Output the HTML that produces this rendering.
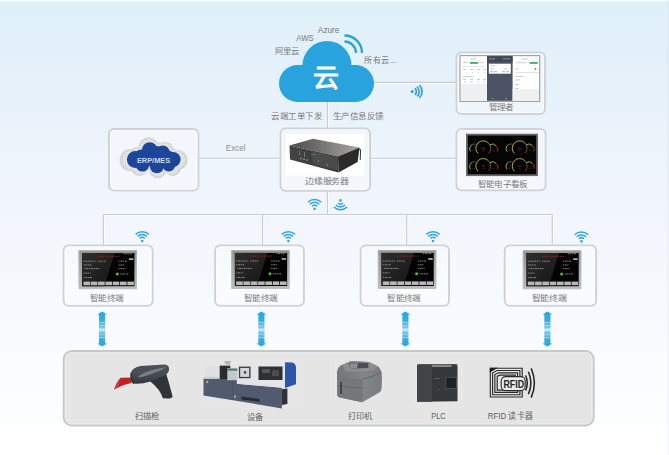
<!DOCTYPE html>
<html lang="zh-CN">
<head>
<meta charset="utf-8">
<style>
html,body{margin:0;padding:0;}
body{width:669px;height:455px;overflow:hidden;position:relative;font-family:"Liberation Sans",sans-serif;
background:linear-gradient(to bottom,#ffffff 0px,#dff0f9 2px,#e6f1fa 80px,#eef4fb 160px,#f4f8fd 260px,#fafcfe 360px,#fefefe 455px);}
svg{position:absolute;left:0;top:0;}
text{font-family:"Liberation Sans",sans-serif;}
</style>
</head>
<body>
<svg width="669" height="455" viewBox="0 0 669 455">
<defs>
  <linearGradient id="arrowg" x1="0" y1="0" x2="0" y2="1">
    <stop offset="0" stop-color="#2aa6dc"/>
    <stop offset="0.28" stop-color="#3aaedd"/>
    <stop offset="0.32" stop-color="#8fd0ea"/>
    <stop offset="0.36" stop-color="#3aaedd"/>
    <stop offset="0.40" stop-color="#9ad6ec"/>
    <stop offset="0.44" stop-color="#5cbce2"/>
    <stop offset="0.52" stop-color="#d6eff7"/>
    <stop offset="0.62" stop-color="#5cbce2"/>
    <stop offset="0.66" stop-color="#9ad6ec"/>
    <stop offset="0.70" stop-color="#3aaedd"/>
    <stop offset="0.74" stop-color="#8fd0ea"/>
    <stop offset="0.78" stop-color="#3aaedd"/>
    <stop offset="1" stop-color="#2aa6dc"/>
  </linearGradient>
  <g id="arrow">
    <path d="M0,-17.6 L5,-14.4 L3.1,-14.4 L3.1,14.4 L5,14.4 L0,17.6 L-5,14.4 L-3.1,14.4 L-3.1,-14.4 L-5,-14.4 Z" fill="url(#arrowg)"/>
  </g>
  <g id="wifi" fill="none" stroke="#34a4dc" stroke-width="1.55">
    <path d="M-6.6,-3.2 A9.4,9.4 0 0 1 6.6,-3.2"/>
    <path d="M-4.6,-1.2 A6.6,6.6 0 0 1 4.6,-1.2"/>
    <path d="M-2.5,0.8 A3.7,3.7 0 0 1 2.5,0.8"/>
    <circle cx="0" cy="3.4" r="1.3" fill="#34a4dc" stroke="none"/>
  </g>
</defs>

<!-- connector lines -->
<g stroke="#fbfcfe" stroke-width="1" fill="none">
  <line x1="373" y1="83.5" x2="457" y2="83.5"/>
  <line x1="328.6" y1="101" x2="328.6" y2="129"/>
  <line x1="198" y1="159.4" x2="281" y2="159.4"/>
  <line x1="370" y1="159.4" x2="457" y2="159.4"/>
  <line x1="328.6" y1="191" x2="328.6" y2="214.5"/>
  <line x1="103.4" y1="215.6" x2="552.3" y2="215.6"/>
  <line x1="104.5" y1="214.5" x2="104.5" y2="245"/>
  <line x1="263.70000000000005" y1="214.5" x2="263.70000000000005" y2="245"/>
  <line x1="407.8" y1="214.5" x2="407.8" y2="245"/>
  <line x1="553.4" y1="214.5" x2="553.4" y2="245"/>
</g>
<g stroke="#c8ccd1" stroke-width="1.1" fill="none">
  <line x1="373" y1="82.4" x2="457" y2="82.4"/>
  <line x1="327.5" y1="101" x2="327.5" y2="129"/>
  <line x1="198" y1="158.3" x2="281" y2="158.3"/>
  <line x1="370" y1="158.3" x2="457" y2="158.3"/>
  <line x1="327.5" y1="191" x2="327.5" y2="214.5"/>
  <line x1="103.4" y1="214.5" x2="552.3" y2="214.5"/>
  <line x1="103.4" y1="214.5" x2="103.4" y2="245"/>
  <line x1="262.6" y1="214.5" x2="262.6" y2="245"/>
  <line x1="406.7" y1="214.5" x2="406.7" y2="245"/>
  <line x1="552.3" y1="214.5" x2="552.3" y2="245"/>
</g>

<!-- cloud -->
<g fill="#28a3dd">
  <rect x="279" y="65" width="95" height="37" rx="18.5"/>
  <circle cx="327" cy="65.5" r="24.5"/>
</g>
<text x="326" y="87.4" font-size="26" font-weight="bold" fill="#fff" text-anchor="middle">云</text>
<g fill="none" stroke="#28a3dd" stroke-width="2.3">
  <path d="M344.5,41.5 A11.5,11.5 0 0 1 356,53"/>
  <path d="M344.5,35.5 A17.5,17.5 0 0 1 362,53"/>
</g>
<g fill="#7a7a7a" font-size="8.5">
  <text x="318" y="33.1" font-size="9.2" textLength="21.4" lengthAdjust="spacingAndGlyphs">Azure</text>
  <text x="296.2" y="41.3" font-size="8.6" textLength="17.6" lengthAdjust="spacingAndGlyphs">AWS</text>
  <text x="274.8" y="54" font-size="8.2" textLength="24.6" lengthAdjust="spacingAndGlyphs">阿里云</text>
  <text x="364.2" y="63" textLength="32" lengthAdjust="spacingAndGlyphs">所有云...</text>
  <text x="271.2" y="118.9" font-size="8" textLength="51" lengthAdjust="spacingAndGlyphs">云端工单下发</text>
  <text x="332.7" y="118.9" font-size="8" textLength="51.3" lengthAdjust="spacingAndGlyphs">生产信息反馈</text>
</g>
<text x="225.8" y="150.7" font-size="9" fill="#8e8e8e" textLength="19.8" lengthAdjust="spacingAndGlyphs">Excel</text>

<!-- sideways wifi near cloud -->
<g fill="none" stroke="#2f9fd9" stroke-width="1.7">
  <circle cx="412.2" cy="91.6" r="1.5" fill="#2f9fd9" stroke="none"/>
  <path d="M414.8,88.3 A4,4 0 0 1 414.8,94.7"/>
  <path d="M417,86.6 A6.6,6.6 0 0 1 417,96.4"/>
  <path d="M419.4,85 A9.3,9.3 0 0 1 419.4,98"/>
</g>

<!-- generic boxes -->
<g fill="#ffffff" fill-opacity="0.3" stroke="#cfd3d7" stroke-width="2">
  <rect x="109" y="129" width="89.4" height="61.6" rx="5"/>
  <rect x="280.6" y="128.4" width="89.4" height="62.4" rx="5"/>
  <rect x="456.5" y="52.5" width="88.5" height="61.5" rx="5"/>
  <rect x="456.5" y="129" width="89" height="61.3" rx="5"/>
  <rect x="63.6" y="245.4" width="89" height="60.3" rx="5"/>
  <rect x="215.1" y="245.4" width="88.8" height="60.3" rx="5"/>
  <rect x="360.7" y="245.4" width="88.3" height="60.3" rx="5"/>
  <rect x="504.8" y="245.4" width="91.3" height="60.3" rx="5"/>
</g>
<g fill="none" stroke="#fbfcfd" stroke-width="1">
  <rect x="110.6" y="130.6" width="86.2" height="58.4" rx="3.5"/>
  <rect x="282.20000000000005" y="130.0" width="86.2" height="59.199999999999996" rx="3.5"/>
  <rect x="458.1" y="54.1" width="85.3" height="58.3" rx="3.5"/>
  <rect x="458.1" y="130.6" width="85.8" height="58.099999999999994" rx="3.5"/>
  <rect x="65.2" y="247.0" width="85.8" height="57.099999999999994" rx="3.5"/>
  <rect x="216.7" y="247.0" width="85.6" height="57.099999999999994" rx="3.5"/>
  <rect x="362.3" y="247.0" width="85.1" height="57.099999999999994" rx="3.5"/>
  <rect x="506.40000000000003" y="247.0" width="88.1" height="57.099999999999994" rx="3.5"/>
</g>

<!-- bottom big box -->
<rect x="63.7" y="351" width="530" height="74.5" rx="8" fill="#e5e5e5" stroke="#c8c8c8" stroke-width="1.9"/>
<rect x="65.4" y="352.7" width="526.6" height="71.1" rx="6.5" fill="none" stroke="#ececec" stroke-width="1"/>

<!-- ERP/MES cloud -->
<defs>
  <g id="erpc">
    <circle cx="135.3" cy="159.5" r="8.4"/>
    <circle cx="149.7" cy="150" r="7.8"/>
    <circle cx="162.8" cy="152.3" r="6.8"/>
    <circle cx="173.2" cy="159.5" r="7.4"/>
    <circle cx="142.5" cy="165" r="6.6"/>
    <circle cx="156.9" cy="166.2" r="7"/>
    <circle cx="168.8" cy="165" r="6.5"/>
    <rect x="135" y="152" width="38" height="14"/>
    <ellipse cx="156" cy="152.5" rx="9" ry="6.5"/>
    <ellipse cx="141" cy="155.5" rx="6" ry="6"/>
    <ellipse cx="168" cy="156" rx="6" ry="5.5"/>
  </g>
</defs>
<g transform="translate(154,157.5) scale(1.27,1.32) translate(-154,-157.5)" fill="#d6d6d6"><use href="#erpc"/></g>
<g transform="translate(154,157.5) scale(1.16,1.19) translate(-154,-157.5)" fill="#e2e2e2"><use href="#erpc"/></g>
<g fill="#1d469b"><use href="#erpc"/></g>
<text x="136.9" y="162.9" font-size="7.9" font-weight="bold" fill="#cfd6ee" textLength="33.3" lengthAdjust="spacingAndGlyphs">ERP/MES</text>

<!-- server -->
<defs>
  <linearGradient id="srvtop" x1="0" y1="0" x2="1" y2="0">
    <stop offset="0" stop-color="#4a4a4a"/>
    <stop offset="0.55" stop-color="#7f7d7b"/>
    <stop offset="1" stop-color="#a9a6a3"/>
  </linearGradient>
  <linearGradient id="srvfront" x1="0" y1="0" x2="1" y2="0">
    <stop offset="0" stop-color="#444444"/>
    <stop offset="1" stop-color="#363636"/>
  </linearGradient>
</defs>
<rect x="285.8" y="133.8" width="78.5" height="41.7" fill="#ffffff"/>
<polygon points="289.5,145.5 313,138.7 359.6,147.4 338,156.5" fill="url(#srvtop)"/>
<polygon points="289.5,145.5 338,156.5 338.5,172.6 290,159.6" fill="url(#srvfront)"/>
<polygon points="338,156.5 359.6,147.4 357.6,162 338.5,172.6" fill="#2b2b2b"/>
<polygon points="312,151 337.5,157 338,170.5 312.5,164" fill="#4b4b4b"/>
<g fill="#5a8f8a">
  <rect x="300" y="157.8" width="2" height="1.5"/>
  <rect x="303" y="158.5" width="2" height="1.5"/>
  <rect x="306" y="159.3" width="2" height="1.5"/>
</g>
<g fill="#777">
  <rect x="299" y="151" width="1" height="4"/>
  <rect x="304" y="152" width="1" height="5"/>
  <rect x="311" y="154" width="5" height="0.8"/>
  <rect x="318" y="160" width="1" height="2"/>
  <rect x="327" y="164" width="1" height="2"/>
</g>
<polyline points="357.6,150 360.6,149.5 360.2,160" fill="none" stroke="#333" stroke-width="1"/>

<!-- phone screens -->
<rect x="460" y="55.6" width="79.6" height="45.8" fill="#fff" stroke="#a0a4a8" stroke-width="1.2"/>
<rect x="487" y="56.2" width="25.6" height="44.6" fill="#4b5263"/>
<rect x="487" y="56.2" width="25.6" height="5.8" fill="#404755"/>
<rect x="488.8" y="63.7" width="22" height="10" fill="#fff"/>
<rect x="461" y="83.8" width="26" height="17" fill="#eef0f2"/>
<rect x="512.6" y="89.4" width="26.4" height="11.4" fill="#eef0f2"/>
<g fill="#3aaa68">
  <rect x="470" y="62" width="8" height="1.8"/>
  <rect x="529.6" y="62" width="8.2" height="1.8"/>
  <circle cx="535.5" cy="69" r="0.9"/>
</g>
<g fill="#bfc3c8">
  <rect x="470" y="58.5" width="6" height="0.9"/>
  <rect x="522" y="58.5" width="6" height="0.9"/>
  <rect x="463" y="62.3" width="4" height="0.8"/>
  <rect x="480" y="62.3" width="4" height="0.8"/>
  <rect x="516" y="62.3" width="10" height="0.8"/>
  <rect x="463" y="69" width="3" height="0.8"/><rect x="470" y="69" width="3" height="0.8"/><rect x="477" y="69" width="3" height="0.8"/><rect x="483" y="69" width="3" height="0.8"/>
  <rect x="466" y="72" width="1" height="0.8"/><rect x="472" y="72" width="1" height="0.8"/><rect x="478" y="72" width="1" height="0.8"/><rect x="484" y="72" width="1" height="0.8"/>
  <rect x="463" y="76" width="10" height="0.8"/>
  <rect x="463" y="79" width="3" height="0.8"/><rect x="470" y="79" width="3" height="0.8"/><rect x="477" y="79" width="3" height="0.8"/><rect x="483" y="79" width="3" height="0.8"/>
  <rect x="464" y="81.5" width="2" height="0.8"/><rect x="470" y="81.5" width="3" height="0.8"/><rect x="477" y="81.5" width="2" height="0.8"/><rect x="483" y="81.5" width="2" height="0.8"/>
  <rect x="515" y="68.5" width="4" height="0.8"/>
  <rect x="515" y="72" width="24" height="0.5"/>
  <rect x="515" y="76" width="8" height="0.8"/>
  <rect x="515" y="79.5" width="5" height="0.8"/>
  <rect x="515" y="84" width="4" height="0.8"/>
  <rect x="515" y="88" width="4" height="0.8"/>
  <rect x="490" y="65.5" width="5" height="0.8"/>
  <rect x="490" y="68.5" width="4" height="0.8"/><rect x="504" y="68.5" width="4" height="0.8"/>
  <rect x="490" y="71" width="3" height="1.2"/><rect x="494" y="71" width="3" height="1.2"/><rect x="502" y="71" width="3" height="1.2"/><rect x="506" y="71" width="3" height="1.2"/>
</g>
<rect x="463" y="66.5" width="22" height="0.5" fill="#f2c4c4"/>
<g fill="#8a93a3">
  <rect x="489" y="58.3" width="6" height="1"/>
  <rect x="503" y="58.3" width="7" height="1"/>
</g>
<g fill="#56b070"><rect x="491.5" y="98" width="2" height="1"/><rect x="505" y="98" width="2" height="1"/></g>

<!-- gauges board -->
<defs>
  <g id="gauge" fill="none" stroke-width="0.9">
    <path d="M-5.3,5.2 A7.4,7.4 0 0 1 5.2,-5.3" stroke="#c4b548"/>
    <path d="M5.2,-5.3 A7.4,7.4 0 0 1 7.4,0.3" stroke="#2f8a50"/>
    <path d="M7.4,0.3 A7.4,7.4 0 0 1 5.5,5" stroke="#b82a2a"/>
    <path d="M-12.6,3.2 A4.5,4.5 0 0 1 -11.2,-3.7" stroke="#c4b548"/>
    <path d="M-11.2,-3.7 A4.5,4.5 0 0 1 -8.5,-4.3" stroke="#2f8a50"/>
    <path d="M-8.5,-4.3 A4.5,4.5 0 0 1 -6,-2.5" stroke="#9a2a2a"/>
    <path d="M6.5,-3.4 A4.7,4.7 0 0 1 12.8,-2.5" stroke="#c4b548"/>
    <path d="M12.8,-2.5 A4.7,4.7 0 0 1 14.2,3" stroke="#b82a2a"/>
    <rect x="-1.6" y="-0.4" width="3.2" height="0.8" fill="#8a2a2a" stroke="none"/>
    <rect x="-1.2" y="2.2" width="2.4" height="0.5" fill="#444" stroke="none"/>
    <rect x="-11" y="2.2" width="2" height="0.5" fill="#444" stroke="none"/>
    <rect x="9" y="2.2" width="2" height="0.5" fill="#444" stroke="none"/>
  </g>
</defs>
<rect x="466.9" y="134.6" width="70.2" height="40.6" fill="#050505" stroke="#6a6a6a" stroke-width="1.8"/>
<use href="#gauge" x="483.3" y="148.3"/>
<use href="#gauge" x="519.7" y="148.3"/>
<use href="#gauge" x="483.3" y="166"/>
<use href="#gauge" x="519.7" y="166"/>

<!-- terminal devices -->
<defs>
  <linearGradient id="bezel" x1="0" y1="0" x2="0" y2="1">
    <stop offset="0" stop-color="#929292"/>
    <stop offset="0.5" stop-color="#a8a8a8"/>
    <stop offset="1" stop-color="#bcbcbc"/>
  </linearGradient>
  <linearGradient id="sheen" x1="0" y1="0" x2="1" y2="1">
    <stop offset="0" stop-color="#2e2e2e"/>
    <stop offset="1" stop-color="#141414"/>
  </linearGradient>
  <g id="term">
    <rect x="0" y="0" width="58.5" height="39" fill="url(#bezel)" rx="0.8"/>
    <rect x="0.6" y="0.6" width="57.3" height="37.8" fill="none" stroke="#c4c4c4" stroke-width="0.6" rx="0.6"/>
    <rect x="3.7" y="2.9" width="52.2" height="33.1" fill="#030303"/>
    <polygon points="3.7,2.9 36.2,2.9 26,36 3.7,36" fill="url(#sheen)"/>
    <g fill="none" stroke="#9c2424" stroke-width="0.8" stroke-dasharray="2 0.6 1.5 0.5">
      <line x1="19" y1="6.1" x2="41" y2="6.1"/>
    </g>
    <g fill="none" stroke="#b8b8b8" stroke-width="0.7" stroke-dasharray="1.2 0.7 2 0.6">
      <line x1="45" y1="3.6" x2="54" y2="3.6"/>
      <line x1="5" y1="11" x2="17" y2="11"/><line x1="19" y1="11" x2="27" y2="11"/>
      <line x1="5" y1="14.8" x2="13" y2="14.8"/>
      <line x1="6" y1="18.4" x2="21" y2="18.4"/>
      <line x1="5" y1="22.9" x2="12" y2="22.9"/>
      <line x1="5" y1="27.4" x2="14" y2="27.4"/>
      <line x1="40" y1="11" x2="49" y2="11"/>
      <line x1="40" y1="14.8" x2="46" y2="14.8"/>
      <line x1="40" y1="18.4" x2="47" y2="18.4"/>
      <line x1="41.5" y1="23.8" x2="50.5" y2="23.8"/>
    </g>
    <rect x="50.4" y="8.2" width="4.5" height="1.5" fill="#c8c8c8"/>
    <circle cx="38.8" cy="23.8" r="1.5" fill="#5cb83a"/>
    <g fill="#b8b8b8">
      <rect x="5" y="31.4" width="6.6" height="3.6"/>
      <rect x="12.3" y="31.4" width="6.6" height="3.6"/>
      <rect x="19.6" y="31.4" width="6.6" height="3.6"/>
      <rect x="26.9" y="31.4" width="6.6" height="3.6"/>
      <rect x="34.2" y="31.4" width="6.6" height="3.6"/>
      <rect x="41.5" y="31.4" width="6.6" height="3.6"/>
      <rect x="48.8" y="31.4" width="6.6" height="3.6"/>
    </g>
  </g>
</defs>
<use href="#term" x="78.5" y="250.2"/>
<use href="#term" x="231.2" y="250"/>
<use href="#term" x="377.8" y="250"/>
<use href="#term" x="522.8" y="250.2"/>

<!-- scanner -->
<defs>
  <linearGradient id="scanhead" x1="0" y1="0" x2="0" y2="1">
    <stop offset="0" stop-color="#4c525a"/>
    <stop offset="0.5" stop-color="#474d55"/>
    <stop offset="1" stop-color="#33373d"/>
  </linearGradient>
</defs>
<path d="M131,377.4 L120.7,377.8 Q116,382.5 114.1,389.6 Q121,385.2 131.5,382.9 Z" fill="#c42020"/>
<path d="M120.7,377.8 Q116,382.5 114.1,389.6 Q116.5,387.4 119,386 Q118.5,381.5 120.7,377.8 Z" fill="#9a6a6a" opacity="0.6"/>
<path d="M150,381.2 L166.2,373.8 Q169.6,385 172.6,396.4 Q171.4,398.6 167.5,398.6 L162.8,398.3 Q160.5,389.5 150,381.2 Z" fill="#30343a"/>
<path d="M131,372.5 Q132.5,367.8 140.5,366 L164.6,364.5 Q169.8,365.2 169,370.2 Q168.2,374 162.5,376.6 L150.5,381.6 Q140.5,384.6 133.6,383.6 Q129.8,381 131,372.5 Z" fill="url(#scanhead)"/>
<path d="M137.5,376.5 Q147,369.8 166,367.2 Q161.5,370.8 140,377.6 Z" fill="#858b93" opacity="0.8"/>
<path d="M131.2,373 Q130.2,379 133.6,383.6" fill="none" stroke="#25282d" stroke-width="1.2"/>

<!-- machine -->
<rect x="201.6" y="359" width="96.4" height="50" fill="#e6e6e6"/>
<polygon points="203.5,378.7 236.9,378.7 236.9,383.7 281.9,387.8 281.9,408.4 203.5,395.4" fill="#515a6f"/>
<line x1="232.8" y1="379" x2="232.8" y2="399.8" stroke="#465064" stroke-width="0.6"/>
<polygon points="281.9,389.3 287.4,388.5 287.4,404.1 281.9,405" fill="#303238"/>
<rect x="203.5" y="376.7" width="33.4" height="2" fill="#c9ccd1"/>
<polygon points="236.9,363.1 285,362.2 285,388 236.9,383.7" fill="#e4e5e8"/>
<path d="M285,362.2 L292.5,362.6 Q296,364 296,368 L296,384.3 L285,388 Z" fill="#2e56a6"/>
<rect x="238.9" y="366.6" width="11.6" height="11.6" fill="#38393c"/>
<rect x="240.2" y="367.9" width="9" height="9" fill="#d4d5d8"/>
<circle cx="245" cy="372.4" r="1.3" fill="#444"/>
<rect x="258.5" y="366.5" width="24" height="13.5" fill="#2f3032"/>
<rect x="262" y="369" width="8" height="4" fill="#55575a"/>
<rect x="272" y="370" width="7" height="6" fill="#4a4c4f"/>
<rect x="205" y="366.1" width="14.7" height="9.6" fill="#dfe0e2"/>
<rect x="219.7" y="365.6" width="10.6" height="13.6" fill="#2a2c30"/>
<polygon points="223.7,361 231.3,361 229,366.1 227,366.1" fill="#b4b4b6"/>
<rect x="227.3" y="368.1" width="10.1" height="12.1" fill="#c4c8cc"/>
<rect x="227.3" y="368.6" width="10.1" height="2" fill="#3d7a78"/>
<polygon points="241.4,396.4 259.7,399 259.7,401.8 241.4,399.6" fill="#2a2c32"/>
<rect x="234.3" y="395.4" width="1.2" height="2.4" fill="#d8d8d8"/>
<rect x="206.4" y="380.8" width="1.8" height="2.2" fill="#d2b84a"/>

<!-- printer -->
<defs>
  <linearGradient id="prn" x1="0" y1="0" x2="1" y2="0">
    <stop offset="0" stop-color="#757678"/>
    <stop offset="0.6" stop-color="#838486"/>
    <stop offset="1" stop-color="#7a7b7d"/>
  </linearGradient>
</defs>
<path d="M337,372 Q337.5,366.5 342.5,364.8 L351.3,361 L368.9,362 L378.2,366.5 Q382,370 382,378 L381.5,389 Q381,392 379.3,392.5 L362.3,402.2 L340,397.5 Q337.5,397 337.3,395 Z" fill="url(#prn)"/>
<path d="M342.5,364.8 L351.3,361 L368.9,362 L378.2,366.5 L372,370.5 Q360,372.5 345,371 Z" fill="#8c8d90"/>
<path d="M348.5,364.2 L350.5,362.4 L368.3,363 L368.3,368.1 L351,368.5 Z" fill="#4d4e52"/>
<path d="M349.5,363.4 L358,363.2 L357,368.2 L350.5,368.3 Z" fill="#8e9094"/>
<path d="M337.2,376 Q350,379.5 363,379 L362.3,402.2 L340,397.5 Q337.5,397 337.3,395 Z" fill="#767779"/>
<path d="M363,379 Q372,377 381.8,372" fill="none" stroke="#5e5f62" stroke-width="0.8"/>
<path d="M338,385.5 Q350,388.5 362.5,388" fill="none" stroke="#5a5b5e" stroke-width="0.7"/>
<rect x="340.2" y="381.9" width="1.8" height="12" fill="#3e3f42"/>
<rect x="367.5" y="381" width="1.8" height="3" fill="#3c9aa0"/>
<line x1="335.7" y1="360" x2="335.7" y2="402" stroke="#e9e9e9" stroke-width="0.8"/>

<!-- PLC -->
<rect x="412.4" y="361.5" width="51" height="41" fill="#e7e7e7"/>
<path d="M417,366.5 Q417,364.3 419.5,364.2 L455.5,364 Q457.5,364.2 457.5,366.5 L457.5,401.3 L417,401.8 Z" fill="#353739"/>
<path d="M417,366.5 Q417,364.3 419.5,364.2 L432,364.1 L432,401.8 L417,401.8 Z" fill="#424447"/>
<rect x="432" y="364.6" width="19.5" height="2.4" fill="#8a8c8f"/>
<rect x="417.5" y="364.4" width="40" height="0.8" fill="#5a5c5f"/>
<rect x="445.8" y="377.2" width="10.5" height="11.5" fill="#1f2022" stroke="#5a5c5e" stroke-width="0.7"/>
<rect x="434" y="378" width="6" height="0.8" fill="#606265"/>
<rect x="437" y="389" width="3" height="0.6" fill="#555"/>

<!-- RFID -->
<g fill="none" stroke="#2a2a2a" stroke-width="1.15">
  <path d="M490.3,397 L490.3,368.2 L522.2,368.2 L522.2,397 Z"/>
  <path d="M492.6,394.7 L492.6,372.8 L497.2,370.5 L519.9,370.5 L519.9,394.7 Z"/>
  <path d="M494.9,392.4 L494.9,374.5 L498.5,372.8 L517.6,372.8 L517.6,392.4 Z"/>
  <path d="M497.2,390.1 L497.2,376.2 L500,375.1 L515.3,375.1 L515.3,390.1 Z"/>
</g>
<polygon points="489.8,367.7 498,367.7 489.8,372.6" fill="#1e1e1e"/>
<rect x="501.2" y="376.6" width="24" height="14" rx="4.5" fill="#ebebeb" stroke="#2a2a2a" stroke-width="1.1"/>
<text x="503.4" y="388" font-size="11.6" font-weight="bold" fill="#262626" textLength="20.8" lengthAdjust="spacingAndGlyphs">RFID</text>
<g fill="none" stroke="#262626" stroke-width="1.55">
  <path d="M525.6,375.5 Q529,383 525.6,390.5"/>
  <path d="M528.4,371.8 Q533.4,383 528.4,394.2"/>
  <path d="M531.2,368.4 Q537.6,383 531.2,397.6"/>
</g>

<!-- box labels -->
<g fill="#7a7a7a" font-size="8.2" font-weight="300">
  <text x="305.3" y="184.4" textLength="43.6" lengthAdjust="spacingAndGlyphs">边缘服务器</text>
  <text x="488.5" y="110.2" textLength="25.4" lengthAdjust="spacingAndGlyphs">管理者</text>
  <text x="477.6" y="187.3" textLength="50.2" lengthAdjust="spacingAndGlyphs">智能电子看板</text>
  <text x="89.9" y="301.3" textLength="33.7" lengthAdjust="spacingAndGlyphs">智能终端</text>
  <text x="243.8" y="301.3" textLength="33.6" lengthAdjust="spacingAndGlyphs">智能终端</text>
  <text x="387.2" y="301.3" textLength="33.4" lengthAdjust="spacingAndGlyphs">智能终端</text>
  <text x="531.5" y="301.3" textLength="35.1" lengthAdjust="spacingAndGlyphs">智能终端</text>
</g>

<!-- wifi icons -->
<use href="#wifi" x="142.3" y="237.6"/>
<use href="#wifi" x="288.4" y="237.6"/>
<use href="#wifi" x="433" y="237.6"/>
<use href="#wifi" x="581.4" y="238"/>
<use href="#wifi" x="314.6" y="205.4"/>
<use href="#wifi" transform="translate(340.5,203.8) scale(1,-1)"/>

<!-- arrows -->
<use href="#arrow" x="102.1" y="329"/>
<use href="#arrow" x="261.4" y="329"/>
<use href="#arrow" x="405.4" y="329"/>
<use href="#arrow" x="547.4" y="329"/>

<!-- bottom labels -->
<g fill="#626262" font-size="8.2">
  <text x="134.6" y="418.5">扫描枪</text>
  <text x="247" y="420">设备</text>
  <text x="348" y="419.2">打印机</text>
  <text x="431.2" y="419.2" font-size="9" textLength="14.6" lengthAdjust="spacingAndGlyphs">PLC</text>
  <text x="487.7" y="419" font-size="8.6" textLength="45.4" lengthAdjust="spacingAndGlyphs">RFID 读卡器</text>
</g>

<rect x="667" y="0" width="2" height="455" fill="#c8d0dc" opacity="0.15"/>
</svg>
</body>
</html>
